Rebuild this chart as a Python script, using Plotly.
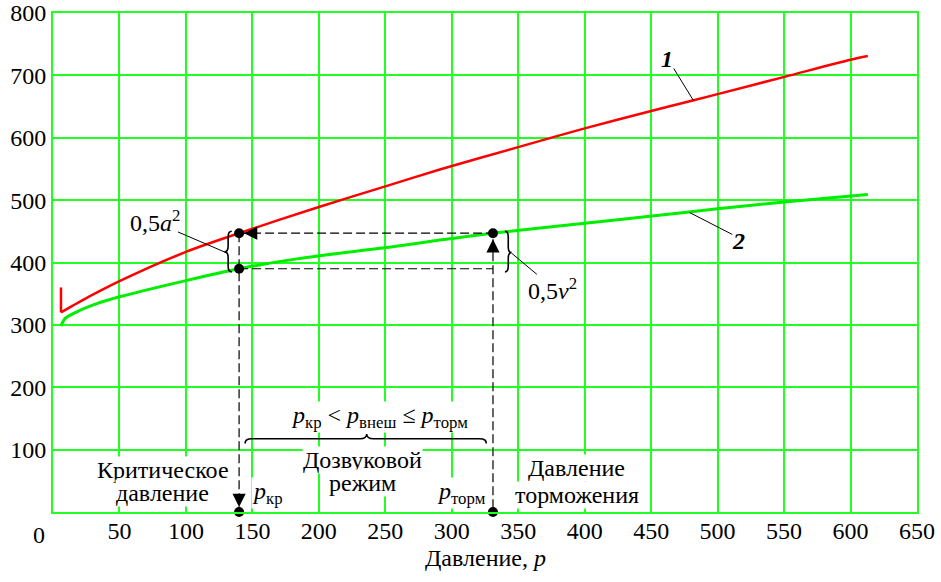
import plotly.graph_objects as go

# ---- data ----
curve1_x = [6, 6, 20, 50, 100, 140, 200, 250, 291, 350, 400, 450, 482, 500, 551, 600, 613]
curve1_y = [360, 320, 337, 370, 417, 447, 489, 522, 549, 585, 615, 643, 660, 670, 698, 725, 731]

curve2_x = [6, 9, 18, 33, 50, 100, 140, 181, 261, 291, 331, 409, 449, 500, 550, 613]
curve2_y = [298, 310, 321, 334, 345, 371, 390, 405, 427, 436, 447, 465, 474, 486, 497, 509]

p_kr = 140          # critical pressure
p_torm = 331        # stagnation pressure
y_a = 447           # 0.5a^2 level on curve 1
y_v = 390           # level on curve 2 at p_kr

x_ticks = [50, 100, 150, 200, 250, 300, 350, 400, 450, 500, 550, 600, 650]
y_ticks = [100, 200, 300, 400, 500, 600, 700, 800]

FONT = "Liberation Serif"
FS = 24
GRID = "#22ff22"

fig = go.Figure()

# curves
fig.add_trace(go.Scatter(x=curve1_x[:2], y=curve1_y[:2], mode="lines",
                         line=dict(color="#ff0000", width=2.5), hoverinfo="skip"))
fig.add_trace(go.Scatter(x=curve1_x[1:], y=curve1_y[1:], mode="lines",
                         line=dict(color="#ff0000", width=2.5, shape="spline", smoothing=0.8),
                         hoverinfo="skip"))
fig.add_trace(go.Scatter(x=curve2_x, y=curve2_y, mode="lines",
                         line=dict(color="#00ee00", width=3, shape="spline", smoothing=0.8),
                         hoverinfo="skip"))

dash = dict(color="black", width=1.2, dash="9px,4px")
# dashed guide lines
fig.add_trace(go.Scatter(x=[p_kr, p_torm, p_torm], y=[y_a, y_a, 0], mode="lines", line=dash, hoverinfo="skip"))
fig.add_trace(go.Scatter(x=[p_kr, p_kr], y=[y_a, 0], mode="lines", line=dash, hoverinfo="skip"))
fig.add_trace(go.Scatter(x=[p_kr, p_torm], y=[y_v, y_v], mode="lines", line=dash, hoverinfo="skip"))

# dots
fig.add_trace(go.Scatter(x=[p_kr, p_kr, p_torm, p_kr, p_torm], y=[y_a, y_v, y_a, 0, 0],
                         mode="markers", marker=dict(color="black", size=10),
                         cliponaxis=False, hoverinfo="skip"))

ann = []
# arrowheads
def arrow(x, y, ax, ay, standoff):
    ann.append(dict(x=x, y=y, ax=ax, ay=ay, xref="x", yref="y", axref="x", ayref="y",
                    text="", showarrow=True, arrowhead=2, arrowsize=2.2, arrowwidth=1.2,
                    arrowcolor="black", standoff=standoff))

arrow(p_kr, y_a, p_kr + 14, y_a, 5)
arrow(p_kr, 0, p_kr, 25, 5)
arrow(p_torm, y_a, p_torm, y_a - 25, 6)

def text(x, y, s, size=FS, bg="rgba(0,0,0,0)"):
    ann.append(dict(x=x, y=y, xref="x", yref="y", text=s, showarrow=False,
                    font=dict(family=FONT, size=size, color="black"),
                    xanchor="center", yanchor="middle", bgcolor=bg, borderpad=0))

W = "white"
text(82.4, 68, "Критическое", bg=W)
text(82.4, 31, "давление", bg=W)
text(232.5, 84, "Дозвуковой", bg=W)
text(232.5, 47, "режим", bg=W)
text(394, 71, "Давление", bg=W)
text(394, 28, "торможения", bg=W)
text(161, 30, "<i>p</i><sub>кр</sub>", bg=W)
text(307, 30, "<i>p</i><sub>торм</sub>", bg=W)
text(245.5, 153, "<i>p</i><sub>кр</sub> &lt; <i>p</i><sub>внеш</sub> ≤ <i>p</i><sub>торм</sub>", bg=W)
text(77, 467, "0,5<i>a</i><sup>2</sup>")
text(376, 358, "0,5<i>v</i><sup>2</sup>")
text(462, 727, "<b><i>1</i></b>")
text(516, 434, "<b><i>2</i></b>")

# origin label
ann.append(dict(x=0, y=0, xref="x", yref="paper", text="0", showarrow=False,
                font=dict(family=FONT, size=FS, color="black"),
                xanchor="center", yanchor="top", xshift=-14, yshift=-8))
# axis title
ann.append(dict(x=0.5, y=0, xref="paper", yref="paper", text="Давление, <i>p</i>", showarrow=False,
                font=dict(family=FONT, size=FS, color="black"),
                xanchor="center", yanchor="middle", yshift=-46))

# leader lines
leaders = [((94, 449), (130, 416)),
           ((345, 415), (364, 381)),
           ((467, 711), (482, 659)),
           ((479, 480), (511, 445))]
shapes = []
for (x0, y0), (x1, y1) in leaders:
    shapes.append(dict(type="line", x0=x0, y0=y0, x1=x1, y1=y1, xref="x", yref="y",
                       line=dict(color="black", width=1)))

def vbrace(xb, xt, y0, y1, ym, q):
    xm = (xb + xt) / 2
    return (f"M {xb},{y1} Q {xm},{y1} {xm},{y1-q} L {xm},{ym+q} Q {xm},{ym} {xt},{ym} "
            f"Q {xm},{ym} {xm},{ym-q} L {xm},{y0+q} Q {xm},{y0} {xb},{y0}")

def hbrace(x0, x1, yb, yt, xm, q):
    ym = (yb + yt) / 2
    return (f"M {x0},{yb} Q {x0},{ym} {x0+q},{ym} L {xm-q},{ym} Q {xm},{ym} {xm},{yt} "
            f"Q {xm},{ym} {xm+q},{ym} L {x1-q},{ym} Q {x1},{ym} {x1},{yb}")

bl = dict(color="black", width=1.6)
shapes.append(dict(type="path", path=vbrace(134.5, 129.0, 385, 450, 417, 9), xref="x", yref="y", line=bl))
shapes.append(dict(type="path", path=vbrace(340.0, 345.0, 385, 450, 416, 9), xref="x", yref="y", line=bl))
shapes.append(dict(type="path", path=hbrace(144.5, 326, 110, 125, 236, 5), xref="x", yref="y", line=bl))

fig.update_layout(
    width=941, height=582,
    margin=dict(l=53, r=24, t=13, b=70),
    paper_bgcolor="white", plot_bgcolor="white",
    showlegend=False,
    font=dict(family=FONT, size=FS, color="black"),
    annotations=ann, shapes=shapes,
    xaxis=dict(range=[0, 650], tickvals=x_ticks, showgrid=True, gridcolor=GRID, gridwidth=1.5,
               showline=True, linecolor=GRID, linewidth=2, mirror=True, zeroline=False,
               automargin=False, ticks="", ticklabelstandoff=-4,
               tickfont=dict(family=FONT, size=FS, color="black")),
    yaxis=dict(range=[0, 800], tickvals=y_ticks, showgrid=True, gridcolor=GRID, gridwidth=1.5,
               showline=True, linecolor=GRID, linewidth=2, mirror=True, zeroline=False,
               automargin=False, ticks="", tickfont=dict(family=FONT, size=FS, color="black")),
)

# remove the default 8px page margin so the figure sits at the window origin
fig.write_html("out.html", config={"displayModeBar": False},
               post_script="document.body.style.margin='0';document.body.style.overflow='hidden';")
